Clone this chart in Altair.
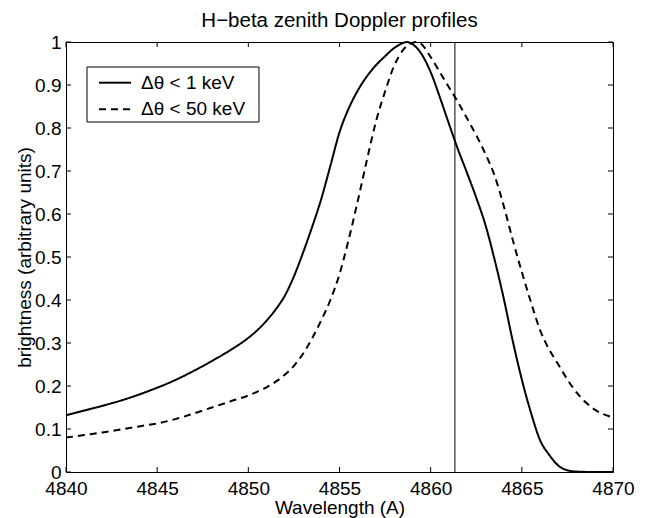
import altair as alt
import pandas as pd

# ---- data ----
wl_narrow = [4840, 4841, 4842, 4843, 4844, 4845, 4846, 4847, 4848, 4849, 4850,
             4850.5, 4851, 4851.5, 4852, 4852.5, 4853, 4853.5, 4854, 4854.5, 4855,
             4855.5, 4856, 4856.5, 4857, 4857.5, 4858, 4858.5, 4858.7, 4859, 4859.5,
             4860, 4860.5, 4861, 4861.5, 4862, 4862.5, 4863, 4863.5, 4864, 4864.5,
             4865, 4865.5, 4866, 4866.5, 4867, 4867.5, 4868, 4869, 4870]
br_narrow = [0.132, 0.143, 0.154, 0.166, 0.180, 0.196, 0.214, 0.235, 0.258, 0.283, 0.312,
             0.330, 0.352, 0.378, 0.410, 0.455, 0.510, 0.570, 0.635, 0.712, 0.790,
             0.845, 0.887, 0.920, 0.946, 0.967, 0.986, 0.998, 1.0, 0.995, 0.972,
             0.930, 0.872, 0.810, 0.750, 0.695, 0.638, 0.575, 0.495, 0.405, 0.305,
             0.215, 0.138, 0.074, 0.040, 0.015, 0.004, 0.001, 0.0, 0.0]

wl_wide = [4840, 4841, 4842, 4843, 4844, 4845, 4846, 4847, 4848, 4849, 4850,
           4850.5, 4851, 4851.5, 4852, 4852.5, 4853, 4853.5, 4854, 4854.5, 4855,
           4855.5, 4856, 4856.5, 4857, 4857.5, 4858, 4858.5, 4859, 4859.3, 4859.5,
           4860, 4860.5, 4861, 4861.5, 4862, 4862.5, 4863, 4863.5, 4864, 4864.5,
           4865, 4865.5, 4866, 4866.5, 4867, 4867.5, 4868, 4868.5, 4869, 4869.5, 4870]
br_wide = [0.080, 0.086, 0.092, 0.099, 0.106, 0.113, 0.123, 0.136, 0.150, 0.164, 0.178,
           0.187, 0.197, 0.210, 0.226, 0.247, 0.275, 0.311, 0.353, 0.400, 0.460,
           0.540, 0.630, 0.725, 0.815, 0.885, 0.945, 0.982, 0.998, 1.0, 0.995,
           0.965, 0.930, 0.895, 0.860, 0.822, 0.783, 0.740, 0.690, 0.620, 0.540,
           0.465, 0.395, 0.330, 0.285, 0.250, 0.215, 0.185, 0.162, 0.145, 0.134, 0.127]

series_names = ["\u0394\u03b8 < 1 keV", "\u0394\u03b8 < 50 keV"]
x_ticks = [4840, 4845, 4850, 4855, 4860, 4865, 4870]
y_ticks = [0, 0.1, 0.2, 0.3, 0.4, 0.5, 0.6, 0.7, 0.8, 0.9, 1]
h_beta = [4861.33]
title_text = "H\u2212beta zenith Doppler profiles"
x_title = "Wavelength (A)"
y_title = "brightness (arbitrary units)"

FONT = "Liberation Sans"
W, H = 547, 430

df = pd.concat([
    pd.DataFrame({"wavelength": wl_narrow, "brightness": br_narrow, "series": series_names[0]}),
    pd.DataFrame({"wavelength": wl_wide, "brightness": br_wide, "series": series_names[1]}),
])
xt = pd.DataFrame({"wavelength": x_ticks})
yt = pd.DataFrame({"brightness": y_ticks})
hb = pd.DataFrame({"wavelength": h_beta})
legend_df = pd.DataFrame({"series": series_names})
one = pd.DataFrame({"k": [0]})

xscale = alt.Scale(domain=[4840, 4870], nice=False, zero=False)
yscale = alt.Scale(domain=[0, 1], nice=False, zero=False)

x_axis = alt.Axis(values=x_ticks, format="d", title=x_title, ticks=False, tickSize=0,
                  domain=False, grid=False, labelFont=FONT, labelFontSize=19,
                  labelColor="black", labelPadding=7, labelFlush=False, labelOverlap=False,
                  titleFont=FONT, titleFontSize=19, titleFontWeight="normal",
                  titleColor="black", titleX=W / 2, titleY=41,
                  titleBaseline="alphabetic", titleAlign="center")
y_axis = alt.Axis(values=y_ticks, format="~g", title=y_title, ticks=False, tickSize=0,
                  domain=False, grid=False, labelFont=FONT, labelFontSize=19,
                  labelColor="black", labelPadding=5, labelFlush=False, labelOverlap=False,
                  titleFont=FONT, titleFontSize=19, titleFontWeight="normal",
                  titleColor="black", titleAngle=270, titleX=-36, titleY=H / 2,
                  titleBaseline="alphabetic", titleAlign="center")

X = alt.X("wavelength:Q", scale=xscale, axis=x_axis)
Y = alt.Y("brightness:Q", scale=yscale, axis=y_axis)

lines = alt.Chart(df).mark_line(strokeWidth=2, color="black", interpolate="monotone").encode(
    x=X, y=Y,
    strokeDash=alt.StrokeDash("series:N", scale=alt.Scale(domain=series_names, range=[[1, 0], [7, 5]]),
                              legend=None),
    detail="series:N",
)

hline = alt.Chart(hb).mark_rule(color="black", strokeWidth=1).encode(x=X)

tick_len = 5
xb = alt.Chart(xt).mark_rule(color="black", strokeWidth=1).encode(x=X, y=alt.value(H), y2=alt.value(H - tick_len))
xtop = alt.Chart(xt).mark_rule(color="black", strokeWidth=1).encode(x=X, y=alt.value(0), y2=alt.value(tick_len))
yl = alt.Chart(yt).mark_rule(color="black", strokeWidth=1).encode(y=Y, x=alt.value(0), x2=alt.value(tick_len))
yr = alt.Chart(yt).mark_rule(color="black", strokeWidth=1).encode(y=Y, x=alt.value(W), x2=alt.value(W - tick_len))

box = alt.Chart(one).mark_rect(fill="white", stroke="black", strokeWidth=1).encode(
    x=alt.value(21), x2=alt.value(193), y=alt.value(25), y2=alt.value(80))
sym1 = alt.Chart(legend_df).transform_filter(alt.datum.series == series_names[0]).mark_rule(
    color="black", strokeWidth=2).encode(x=alt.value(33), x2=alt.value(65), y=alt.value(40.7))
sym2 = alt.Chart(legend_df).transform_filter(alt.datum.series == series_names[1]).mark_rule(
    color="black", strokeWidth=2, strokeDash=[7, 5]).encode(x=alt.value(33), x2=alt.value(65), y=alt.value(67.3))
lab1 = alt.Chart(legend_df).transform_filter(alt.datum.series == series_names[0]).mark_text(
    align="left", baseline="alphabetic", font=FONT, fontSize=19, color="black").encode(
    x=alt.value(75), y=alt.value(46.5), text="series:N")
lab2 = alt.Chart(legend_df).transform_filter(alt.datum.series == series_names[1]).mark_text(
    align="left", baseline="alphabetic", font=FONT, fontSize=19, color="black").encode(
    x=alt.value(75), y=alt.value(72.5), text="series:N")

title = alt.Chart(one).mark_text(align="center", baseline="alphabetic", font=FONT, fontSize=20.5,
                                 color="black", text=title_text).encode(
    x=alt.value(W / 2), y=alt.value(-15.3))

chart = alt.layer(lines, hline, xb, xtop, yl, yr, box, sym1, sym2, lab1, lab2, title).properties(
    width=W, height=H,
    autosize=alt.AutoSizeParams(type="none"),
    padding={"left": 58, "top": 34, "right": 24, "bottom": 46},
).configure_view(stroke="black", strokeWidth=1)

chart.save("out.html", embed_options={"renderer": "svg", "actions": False})
